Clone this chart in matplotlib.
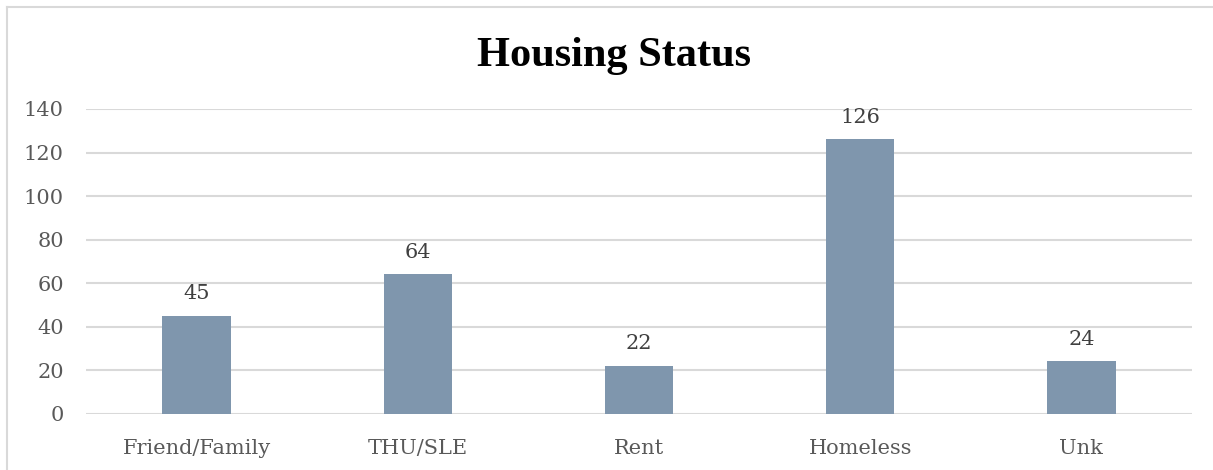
import matplotlib
matplotlib.use("Agg")
import matplotlib.pyplot as plt
from matplotlib.lines import Line2D

categories = ["Friend/Family", "THU/SLE", "Rent", "Homeless", "Unk"]
counts = [45, 64, 22, 126, 24]
yticks = [0, 20, 40, 60, 80, 100, 120, 140]

bar_color = "#7f96ad"
grid_color = "#d9d9d9"
tick_color = "#595959"
label_color = "#404040"
serif = "DejaVu Serif"

fig = plt.figure(figsize=(12.13, 4.70), dpi=100)

# chart frame: only left and top edges fall inside the picture
W, H = 1213, 470
fig.add_artist(Line2D([7 / W, 7 / W], [0, 1 - 7 / H], transform=fig.transFigure,
                      color=grid_color, linewidth=1.5))
fig.add_artist(Line2D([7 / W, 1], [1 - 7 / H, 1 - 7 / H], transform=fig.transFigure,
                      color=grid_color, linewidth=1.5))

ax = fig.add_axes([86 / W, 1 - 413.7 / H, (1192 - 86) / W, (413.7 - 109) / H])
x = range(len(categories))
ax.bar(x, counts, width=0.31, color=bar_color, zorder=3)
ax.set_xlim(-0.5, len(categories) - 0.5)
ax.set_ylim(0, 140)
ax.set_yticks(yticks)
ax.set_xticks(list(x))
ax.set_xticklabels(categories)
ax.yaxis.grid(True, color=grid_color, linewidth=1.5, zorder=0)
for s in ax.spines.values():
    s.set_visible(False)
ax.tick_params(length=0, colors=tick_color, labelsize=15)
ax.tick_params(axis="x", pad=18)
ax.tick_params(axis="y", pad=16)
for lab in ax.get_xticklabels() + ax.get_yticklabels():
    lab.set_family(serif)

for xi, v in zip(x, counts):
    ax.annotate(str(v), (xi, v), xytext=(0, 9), textcoords="offset points",
                ha="center", va="bottom", fontsize=15, color=label_color,
                family=serif)

fig.text(614 / W, 1 - 66 / H, "Housing Status", ha="center", va="baseline",
         fontsize=30.5, fontweight="bold", family="Liberation Serif", color="black")

fig.savefig("out.png", dpi=100)
